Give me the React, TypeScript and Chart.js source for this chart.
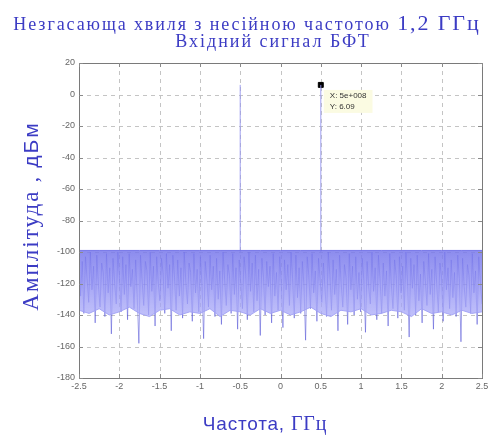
import React, { useEffect, useRef } from "react";
import { Chart, registerables } from "chart.js";

Chart.register(...registerables);

const FREQ_MIN = -2.5;
const FREQ_MAX = 2.5;
const X_TICKS = [-2.5, -2, -1.5, -1, -0.5, 0, 0.5, 1, 1.5, 2, 2.5];
const Y_TICKS = [20, 0, -20, -40, -60, -80, -100, -120, -140, -160, -180];
const Y_MIN = -180;
const Y_MAX = 20;

// Noise floor of the spectrum (dBm), read across -2.5 .. 2.5 GHz
const NOISE = [
  -101, -128, -106, -139, -103, -117, -132, -100, -124, -109, -145, -102, -121, -135, -107, -113, -141, -101, -126, -110, -152, -104, -119, -133, -100,
  -115, -138, -103, -127, -108, -143, -101, -122, -111, -136, -105, -129, -158, -102, -118, -134, -106, -112, -140, -100, -125, -109, -147, -103, -120,
  -131, -104, -114, -139, -101, -123, -108, -150, -102, -116, -137, -105, -128, -110, -142, -100, -119, -133, -107, -113, -144, -101, -126, -111, -138,
  -103, -121, -155, -106, -117, -135, -102, -124, -109, -141, -104, -130, -112, -146, -100, -118, -134, -108, -115, -139, -101, -127, -110, -149, -105,
  -120, -136, -103, -114, -143, -100, -125, -107, -138, -102, -131, -111, -153, -104, -116, -140, -106, -122, -109, -145, -101, -128, -113, -137, -103,
  -119, -148, -105, -124, -108, -134, -100, -117, -142, -102, -129, -110, -139, -106, -121, -156, -103, -115, -136, -101, -126, -112, -144, -104, -118,
  -132, -107, -123, -141, -100, -114, -137, -105, -127, -111, -150, -102, -120, -135, -108, -116, -146, -101, -124, -109, -140, -103, -130, -113, -138,
  -104, -118, -151, -106, -122, -133, -100, -125, -110, -143, -102, -117, -139, -107, -128, -112, -147, -101, -121, -136, -105, -115, -142, -103, -126,
  -109, -137, -100, -119, -154, -104, -123, -108, -140, -102, -131, -114, -145, -106, -118, -134, -101, -127, -111, -149, -103, -120, -138, -107, -116,
  -144, -100, -124, -110, -136, -105, -129, -113, -141, -102, -117, -157, -104, -122, -135, -108, -115, -139, -101, -126, -112, -146, -103, -119, -133,
];

// Dense band of the noise: upper and lower edges (dBm)
const BAND_UPPER = [
  -99, -99, -99, -99, -99, -99, -99, -99, -99, -99, -99, -99, -99, -99, -99, -99, -99, -99, -99, -99, -99,
];
const BAND_LOWER = [
  -137, -139, -136, -140, -138, -135, -139, -141, -137, -136, -140, -138, -139, -136, -141, -137, -138, -140, -136, -139,
  -137, -140, -138, -135, -139, -141, -137, -138, -136, -140, -139, -137, -138, -141, -136, -139, -138, -140, -137, -139, -138,
];

// Carrier peaks
const PEAK_FREQS = [-0.5, 0.5];
const PEAK_BASE = -100;
const PEAK_LEVEL = 6.09;

// Data tip
const TIP_X = 0.5;
const TIP_Y = 6.09;
const TIP_LINES = ["X: 5e+008", "Y: 6.09"];

const TITLE_1A = "Незгасающа хвиля з несійною частотою ";
const TITLE_1B = "1,2 ГГц";
const TITLE_2 = "Вхідний сигнал БФТ";
const Y_LABEL_A = "Амплітуда";
const Y_LABEL_B = " , ";
const Y_LABEL_C = "дБм";
const X_LABEL_A = "Частота, ";
const X_LABEL_B = "ГГц";

const TEXT_BLUE = "#3c3cc4";
const SERIF = "'Liberation Serif', 'DejaVu Serif', serif";
const SANS = "'Liberation Sans', Arial, sans-serif";

type Seg = { text: string; font: string };

function drawSegs(ctx: any, segs: Seg[], cx: number, y: number, spacing: number) {
  ctx.letterSpacing = spacing + "px";
  let total = 0;
  for (const s of segs) {
    ctx.font = s.font;
    total += ctx.measureText(s.text).width;
  }
  let x = cx - total / 2;
  for (const s of segs) {
    ctx.font = s.font;
    ctx.fillText(s.text, x, y);
    x += ctx.measureText(s.text).width;
  }
  ctx.letterSpacing = "0px";
}

function spread(arr: number[]) {
  const step = (FREQ_MAX - FREQ_MIN) / (arr.length - 1);
  return arr.map((v, i) => ({ x: FREQ_MIN + i * step, y: v }));
}

const decorPlugin = {
  id: "decor",
  beforeDatasetsDraw(chart: any) {
    const { ctx, chartArea, scales } = chart;
    const { left, right, top, bottom } = chartArea;
    ctx.save();
    ctx.strokeStyle = "#c4c4c4";
    ctx.lineWidth = 1;
    ctx.setLineDash([4, 4]);
    for (const v of X_TICKS) {
      const px = Math.round(scales.x.getPixelForValue(v)) + 0.5;
      ctx.beginPath();
      ctx.moveTo(px, top);
      ctx.lineTo(px, bottom);
      ctx.stroke();
    }
    for (const v of Y_TICKS) {
      const py = Math.round(scales.y.getPixelForValue(v)) + 0.5;
      ctx.beginPath();
      ctx.moveTo(left, py);
      ctx.lineTo(right, py);
      ctx.stroke();
    }
    ctx.restore();
  },
  afterDraw(chart: any) {
    const { ctx, chartArea, scales } = chart;
    const { left, right, top, bottom } = chartArea;
    ctx.save();
    // plot box
    ctx.strokeStyle = "#7a7a7a";
    ctx.lineWidth = 1;
    ctx.setLineDash([]);
    ctx.strokeRect(Math.round(left) + 0.5, Math.round(top) + 0.5, Math.round(right - left), Math.round(bottom - top));

    // inner tick marks
    ctx.strokeStyle = "#8a8a8a";
    for (const v of X_TICKS) {
      const px = Math.round(scales.x.getPixelForValue(v)) + 0.5;
      ctx.beginPath();
      ctx.moveTo(px, bottom);
      ctx.lineTo(px, bottom - 4);
      ctx.moveTo(px, top);
      ctx.lineTo(px, top + 4);
      ctx.stroke();
    }
    for (const v of Y_TICKS) {
      const py = Math.round(scales.y.getPixelForValue(v)) + 0.5;
      ctx.beginPath();
      ctx.moveTo(left, py);
      ctx.lineTo(left + 4, py);
      ctx.moveTo(right, py);
      ctx.lineTo(right - 4, py);
      ctx.stroke();
    }

    // data tip
    const mx = scales.x.getPixelForValue(TIP_X);
    const my = scales.y.getPixelForValue(TIP_Y);
    const bx = mx + 3;
    const by = my + 5;
    ctx.font = "8px " + SANS;
    let w = 0;
    for (const t of TIP_LINES) w = Math.max(w, ctx.measureText(t).width);
    const bw = w + 12;
    const bh = 23;
    ctx.fillStyle = "#fbfbe2";
    ctx.fillRect(bx, by, bw, bh);
    ctx.fillStyle = "#333333";
    ctx.textBaseline = "middle";
    ctx.textAlign = "left";
    TIP_LINES.forEach((t, i) => ctx.fillText(t, bx + 6, by + 6 + i * 11));

    // titles
    ctx.fillStyle = TEXT_BLUE;
    ctx.textBaseline = "alphabetic";
    drawSegs(ctx, [
      { text: TITLE_1A, font: "18px " + SERIF },
      { text: TITLE_1B, font: "22px " + SERIF },
    ], 247, 30, 1.9);
    drawSegs(ctx, [{ text: TITLE_2, font: "18px " + SERIF }], 273, 47, 2);

    // x label
    drawSegs(ctx, [
      { text: X_LABEL_A, font: "19px " + SANS },
      { text: X_LABEL_B, font: "20px " + SERIF },
    ], 265, 430, 0.8);

    // y label
    ctx.translate(38, 216);
    ctx.rotate(-Math.PI / 2);
    drawSegs(ctx, [
      { text: Y_LABEL_A, font: "23px " + SERIF },
      { text: Y_LABEL_B, font: "21px " + SERIF },
      { text: Y_LABEL_C, font: "21px " + SANS },
    ], 0, 0, 2);
    ctx.restore();
  },
};

export default function App() {
  const ref = useRef<HTMLCanvasElement | null>(null);
  useEffect(() => {
    if (!ref.current) return;
    const peakData: any[] = [];
    PEAK_FREQS.forEach((f) => {
      peakData.push({ x: f, y: PEAK_BASE });
      peakData.push({ x: f, y: PEAK_LEVEL });
      peakData.push({ x: f, y: null });
    });
    const bandFill = (c: any) => {
      const { chart } = c;
      const { ctx, chartArea, scales } = chart;
      if (!chartArea) return "rgba(150,150,245,0.8)";
      const y1 = scales.y.getPixelForValue(-99);
      const y2 = scales.y.getPixelForValue(-140);
      const g = ctx.createLinearGradient(0, y1, 0, y2);
      g.addColorStop(0, "rgba(120,120,235,0.85)");
      g.addColorStop(0.45, "rgba(140,140,242,0.8)");
      g.addColorStop(1, "rgba(170,170,248,0.75)");
      return g;
    };
    const chart = new Chart(ref.current, {
      type: "line",
      data: {
        datasets: [
          {
            data: spread(BAND_LOWER),
            borderColor: "rgba(160,160,245,0.9)",
            borderWidth: 1,
            pointRadius: 0,
            fill: false,
          },
          {
            data: spread(BAND_UPPER),
            borderColor: "rgba(110,110,230,0.9)",
            backgroundColor: bandFill,
            borderWidth: 1,
            pointRadius: 0,
            fill: "-1",
          },
          {
            data: spread(NOISE),
            borderColor: "rgba(85,85,215,0.55)",
            borderWidth: 1,
            pointRadius: 0,
            tension: 0,
          },
          {
            data: peakData,
            borderColor: "rgba(150,150,240,0.9)",
            borderWidth: 1,
            pointRadius: 0,
            spanGaps: false,
          },
          {
            data: [{ x: TIP_X, y: TIP_Y }],
            showLine: false,
            pointStyle: "rect",
            pointRadius: 3.5,
            backgroundColor: "#000000",
            borderColor: "#000000",
          },
        ],
      },
      options: {
        responsive: false,
        animation: false,
        layout: { padding: { left: 0, top: 63, right: 10, bottom: 0 } },
        plugins: {
          legend: { display: false },
          tooltip: { enabled: false },
          title: { display: false },
          filler: { propagate: false },
        },
        scales: {
          x: {
            type: "linear",
            min: FREQ_MIN,
            max: FREQ_MAX,
            afterBuildTicks: (s: any) => {
              s.ticks = X_TICKS.map((v) => ({ value: v }));
            },
            afterFit: (s: any) => {
              s.height = 61;
            },
            ticks: {
              callback: (v: any) => String(v),
              font: { family: SANS, size: 9 },
              color: "#666666",
              padding: 3,
              maxRotation: 0,
              autoSkip: false,
            },
            grid: { display: false, drawTicks: false },
            border: { display: false },
          },
          y: {
            type: "linear",
            min: Y_MIN,
            max: Y_MAX,
            afterBuildTicks: (s: any) => {
              s.ticks = Y_TICKS.map((v) => ({ value: v }));
            },
            afterFit: (s: any) => {
              s.width = 79;
            },
            ticks: {
              callback: (v: any) => String(v),
              font: { family: SANS, size: 9 },
              color: "#666666",
              padding: 4,
              autoSkip: false,
            },
            grid: { display: false, drawTicks: false },
            border: { display: false },
          },
        },
      },
      plugins: [decorPlugin],
    } as any);
    return () => chart.destroy();
  }, []);
  return (
    <div style={{ position: "absolute", left: 0, top: 0, width: 492, height: 439, background: "#ffffff" }}>
      <canvas ref={ref} width={492} height={439} style={{ display: "block" }} />
    </div>
  );
}
